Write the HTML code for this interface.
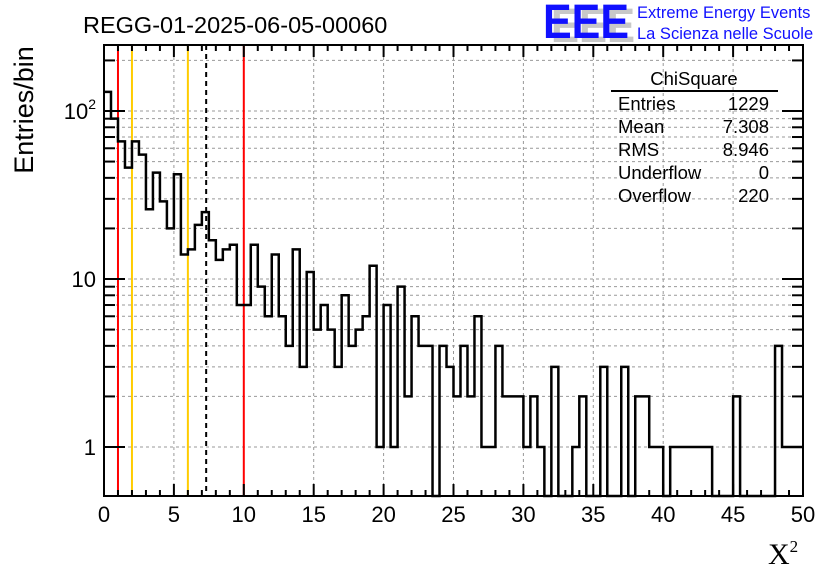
<!DOCTYPE html>
<html><head><meta charset="utf-8"><style>
body{margin:0;background:#fff;}
svg{display:block;font-family:"Liberation Sans",sans-serif;}
</style></head><body>
<svg id="c" width="836" height="572" viewBox="0 0 836 572">
<text x="83" y="33" font-size="23.5" fill="#000">REGG-01-2025-06-05-00060</text>
<g>
<text x="551" y="42" font-size="48" font-weight="bold" fill="#c8c8c8" textLength="84" lengthAdjust="spacingAndGlyphs">EEE</text>
<text x="543" y="38" font-size="48" font-weight="bold" fill="#1010ff" textLength="86" lengthAdjust="spacingAndGlyphs">EEE</text>
</g>
<text x="637" y="18" font-size="16.5" fill="#1010ff">Extreme Energy Events</text>
<text x="637" y="39" font-size="16.5" fill="#1010ff">La Scienza nelle Scuole</text>
<text transform="translate(33,110) rotate(-90)" text-anchor="middle" font-size="27">Entries/bin</text>
<text x="768" y="564" font-size="30" font-family="Liberation Serif,serif">X<tspan font-size="17" dy="-12">2</tspan></text>
<g id="grid"></g>
<g id="marks"></g>
<g id="axes"></g>
<g font-size="18.5">
<text x="694" y="85" text-anchor="middle">ChiSquare</text>
<line x1="611" y1="91" x2="778" y2="91" stroke="#000" stroke-width="2"/>
<text x="618" y="110">Entries</text><text x="769" y="110" text-anchor="end">1229</text>
<text x="618" y="133">Mean</text><text x="769" y="133" text-anchor="end">7.308</text>
<text x="618" y="156">RMS</text><text x="769" y="156" text-anchor="end">8.946</text>
<text x="618" y="179">Underflow</text><text x="769" y="179" text-anchor="end">0</text>
<text x="618" y="202">Overflow</text><text x="769" y="202" text-anchor="end">220</text>
</g>
</svg>
<script>
const counts=[130,90,66,46,66,55,26,43,29,20,42,14,15,21,25,17,13,15,16,7,7,16,9,6,14,
6,4,15,3,11,5,7,5,3,8,4,5,6,12,1,7,1,9,2,6,4,4,0,4,3,2,4,
2,6,1,1,4,2,2,2,1,2,1,0,3,0,0,1,2,0,0,3,0,0,3,0,2,2,1,1,0,
1,1,1,1,1,1,0,0,0,2,0,0,0,0,0,4,1,1,1];
const binWidth=0.5;
const xTicks=[0,5,10,15,20,25,30,35,40,45,50];
const yTickVals=[1,10,100];
const yTickLabels=["1","10","10²"];
const redLines=[1,10];
const yellowLines=[2,6];
const meanLine=[7.308];
const X0=104,X1=803,Y0=45,Y1=496;
const xs=v=>X0+(v-0)*(X1-X0)/50;
const ys=v=>447-168*Math.log10(v);
const NS="http://www.w3.org/2000/svg";
function mk(p,t,a){const e=document.createElementNS(NS,t);for(const k in a)e.setAttribute(k,a[k]);p.appendChild(e);return e;}
const grid=document.getElementById('grid'),marks=document.getElementById('marks'),axes=document.getElementById('axes');
xTicks.slice(1,-1).forEach(v=>{const l=mk(grid,'line',{x1:xs(v),x2:xs(v),y1:Y0,y2:Y1,stroke:'#999','stroke-dasharray':'3,3','stroke-width':1});

});
const minorY=[];
[1,10,100].forEach(d=>{for(let m=1;m<10;m++){const v=d*m;if(ys(v)>Y0&&ys(v)<Y1)minorY.push(v);}});
minorY.forEach(v=>{const l=mk(grid,'line',{x1:X0,x2:X1,y1:ys(v),y2:ys(v),stroke:'#999','stroke-dasharray':'3,3','stroke-width':1});

});
function vline(v,col,dash,name){const l=mk(marks,'line',{x1:xs(v),x2:xs(v),y1:Y0,y2:Y1,stroke:col,'stroke-width':2});if(dash)l.setAttribute('stroke-dasharray',dash);

}
redLines.forEach(v=>vline(v,'#ff0000',null,'red-marker-line'));
yellowLines.forEach(v=>vline(v,'#ffcc00',null,'yellow-marker-line'));
meanLine.forEach(v=>vline(v,'#000','5,4','mean-line'));
let d='';
counts.forEach((c,i)=>{const xa=xs(i*binWidth),xb=xs((i+1)*binWidth);const y=c>0?Math.min(ys(c),Y1):Y1;
if(i===0)d+=`M${xa},${y}`;else d+=`L${xa},${y}`;d+=`L${xb},${y}`;});
const p=mk(marks,'path',{d:d,fill:'none',stroke:'#000','stroke-width':2.5});


const f=mk(axes,'rect',{x:X0,y:Y0,width:X1-X0,height:Y1-Y0,fill:'none',stroke:'#000','stroke-width':2});


for(let v=0;v<=50;v++){const maj=v%5===0;const L=maj?12:6;
mk(axes,'line',{x1:xs(v),x2:xs(v),y1:Y1,y2:Y1-L,stroke:'#000','stroke-width':2});
mk(axes,'line',{x1:xs(v),x2:xs(v),y1:Y0,y2:Y0+L,stroke:'#000','stroke-width':2});}
xTicks.forEach(v=>{const t=mk(axes,'text',{x:xs(v),y:522,'text-anchor':'middle','font-size':22});t.textContent=String(v);

});
minorY.forEach(v=>{const maj=yTickVals.includes(v);const L=maj?21:11;
mk(axes,'line',{x1:X0,x2:X0+L,y1:ys(v),y2:ys(v),stroke:'#000','stroke-width':2});
mk(axes,'line',{x1:X1,x2:X1-L,y1:ys(v),y2:ys(v),stroke:'#000','stroke-width':2});});
yTickVals.forEach((v,i)=>{const t=mk(axes,'text',{x:96,y:ys(v)+8,'text-anchor':'end','font-size':22});
if(v===100){t.innerHTML='10<tspan font-size="14" dy="-10">2</tspan>';}else t.textContent=yTickLabels[i];

});
</script>
</body></html>
